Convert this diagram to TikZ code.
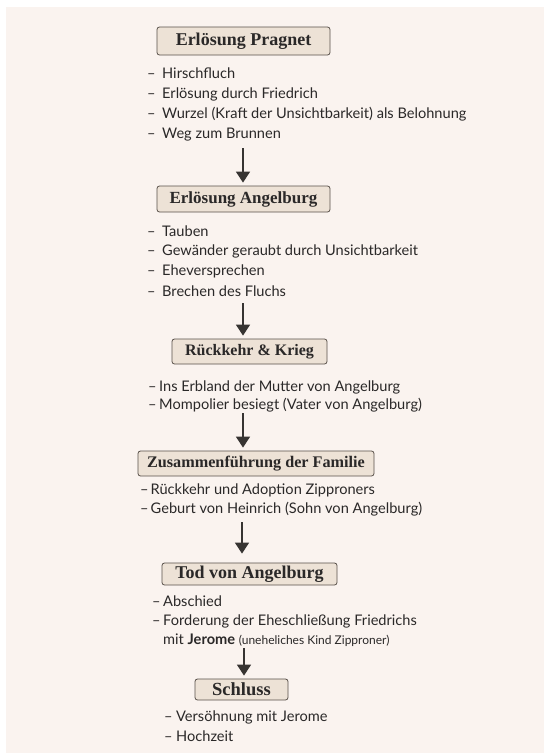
\documentclass[tikz,border=0pt]{standalone}
\usepackage{fontspec}
\setmainfont{Lato}
\newfontfamily\titlefont{Liberation Serif}
\usetikzlibrary{arrows.meta}
\definecolor{bgc}{RGB}{250,243,239}
\definecolor{boxfill}{RGB}{237,226,214}
\definecolor{boxline}{RGB}{88,80,74}
\definecolor{txt}{RGB}{42,40,40}
\definecolor{arrc}{RGB}{55,52,50}
\tikzset{
  titlebox/.style={draw=boxline, fill=boxfill, line width=0.8pt, rounded corners=2.5pt,
    inner sep=0pt, font=\titlefont\bfseries\fontsize{#1}{20}\selectfont, text=txt},
  titlebox/.default=18,
  item/.style={anchor=west, inner sep=0pt, font=\fontsize{14.6}{16}\selectfont, text=txt},
  flow/.style={draw=arrc, line width=1.5pt, -{Triangle[length=11pt,width=14pt]}, shorten >=3pt}
}
\newcommand{\dsh}[1]{\makebox[#1][l]{–}}
\begin{document}
\begin{tikzpicture}[x=1pt,y=-1pt]
\useasboundingbox (0,0) rectangle (544,753);
\fill[white] (0,0) rectangle (544,753);
\fill[bgc] (6,7) rectangle (544,753);

% Box 1
\node[titlebox=18, minimum width=173pt, minimum height=28pt] (b1) at (243.5,41) {Erlösung Pragnet};
\node[item] (l11) at (147,73) {\dsh{15pt}Hirschfluch};
\node[item] (l12) at (147,94) {\dsh{15pt}Erlösung durch Friedrich};
\node[item] (l13) at (147,114) {\dsh{15pt}Wurzel (Kraft der Unsichtbarkeit) als Belohnung};
\node[item] (l14) at (147,135) {\dsh{15pt}Weg zum Brunnen};
\coordinate (a1) at (243,148);

% Box 2
\node[titlebox=17, minimum width=173pt, minimum height=26pt] (b2) at (243.5,199) {Erlösung Angelburg};
\node[item] (l21) at (147,231) {\dsh{15pt}Tauben};
\node[item] (l22) at (147,251) {\dsh{15pt}Gewänder geraubt durch Unsichtbarkeit};
\node[item] (l23) at (147,271) {\dsh{15pt}Eheversprechen};
\node[item] (l24) at (147,291) {\dsh{15pt}Brechen des Fluchs};
\coordinate (a2) at (243,303);

% Box 3
\node[titlebox=16, minimum width=155pt, minimum height=25pt] (b3) at (249.5,351.5) {Rückkehr \& Krieg};
\node[item] (l31) at (148,387) {\dsh{11pt}Ins Erbland der Mutter von Angelburg};
\node[item] (l32) at (148,405) {\dsh{11pt}Mompolier besiegt (Vater von Angelburg)};
\coordinate (a3) at (243,413);

% Box 4
\node[titlebox=16.2, minimum width=236pt, minimum height=25pt] (b4) at (256,463.5) {Zusammenführung der Familie};
\node[item] (l41) at (140,490) {\dsh{10.5pt}Rückkehr und Adoption Zipproners};
\node[item] (l42) at (140,509) {\dsh{10.5pt}Geburt von Heinrich (Sohn von Angelburg)};
\coordinate (a4) at (242,522);

% Box 5
\node[titlebox=18, minimum width=175pt, minimum height=22pt] (b5) at (249.5,574) {Tod von Angelburg};
\node[item] (l51) at (152,601) {\dsh{11pt}Abschied};
\node[item] (l52) at (152,621) {\dsh{11pt}Forderung der Eheschließung Friedrichs};
\node[item] (l53) at (163,640) {mit \textbf{Jerome} {\fontsize{12}{13}\selectfont(uneheliches Kind Zipproner)}};
\coordinate (a5) at (244,648);

% Box 6
\node[titlebox=18.5, minimum width=93pt, minimum height=21pt] (b6) at (241.5,689.5) {Schluss};
\node[item] (l61) at (164,717) {\dsh{12pt}Versöhnung mit Jerome};
\node[item] (l62) at (164,736) {\dsh{12pt}Hochzeit};

% Arrows
\draw[flow] (a1) -- (a1 |- b2.north);
\draw[flow] (a2) -- (a2 |- b3.north);
\draw[flow] (a3) -- (a3 |- b4.north);
\draw[flow, shorten >=9pt] (a4) -- (a4 |- b5.north);
\draw[flow] (a5) -- (a5 |- b6.north);
\end{tikzpicture}
\end{document}
